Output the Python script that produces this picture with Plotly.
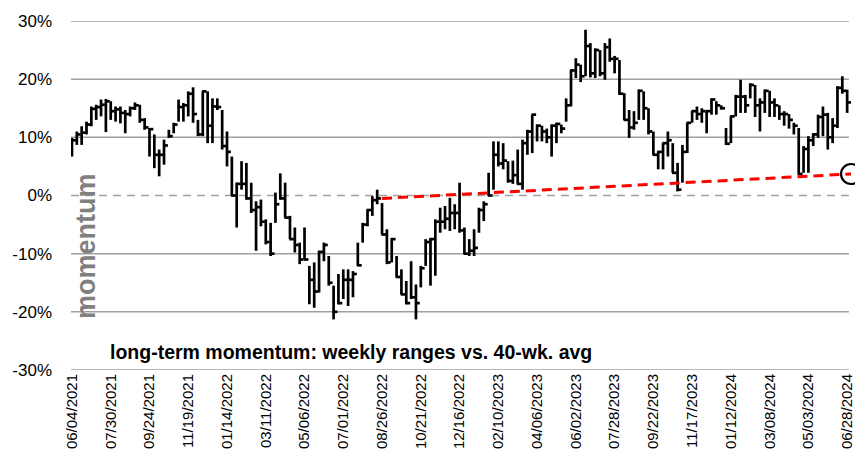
import plotly.graph_objects as go

# weekly momentum ranges (% vs. 40-wk avg), week 0 = 06/04/2021
highs = [9.9, 11.0, 11.9, 12.7, 15.3, 15.6, 16.5, 16.6, 16.2, 15.3,
         15.3, 14.7, 15.3, 16.0, 15.6, 13.3, 11.6, 10.5, 7.9, 9.6,
         11.3, 12.5, 16.5, 15.9, 17.9, 18.6, 13.0, 17.9, 17.9, 16.7,
         16.7, 14.7, 11.0, 6.7, 2.2, 5.9, 5.6, 2.2, -1.0, -0.7,
         -4.1, -4.7, 0.5, 3.8, 2.2, -3.5, -5.5, -8.1, -5.5, -12.1,
         -11.5, -9.5, -8.1, -10.4, -15.5, -13.5, -12.7, -12.7, -13.0, -8.1,
         -4.7, -2.4, -0.1, 1.0, -1.3, -5.8, -7.3, -10.4, -12.7, -14.7,
         -11.3, -15.3, -12.1, -7.5, -7.3, -4.1, -2.1, -1.8, -0.4, -1.5,
         2.2, -5.5, -7.5, -5.8, -2.1, -1.0, 3.9, 9.3, 9.3, 9.0,
         5.9, 6.0, 7.9, 9.6, 11.3, 13.9, 12.2, 12.0, 11.5, 12.2,
         12.5, 12.2, 16.7, 21.6, 23.6, 22.5, 28.5, 26.2, 25.3, 25.0,
         26.2, 27.0, 24.0, 23.3, 17.6, 14.7, 14.5, 18.2, 17.9, 15.0,
         11.0, 7.6, 9.0, 11.0, 9.0, 5.6, 8.7, 12.5, 14.5, 15.3,
         15.0, 14.5, 16.7, 16.2, 15.5, 11.6, 13.6, 17.3, 19.9, 17.3,
         19.3, 19.0, 16.7, 18.2, 18.0, 16.7, 15.5, 14.5, 14.0, 12.5,
         11.6, 8.5, 10.2, 10.7, 13.9, 15.3, 14.2, 13.3, 18.8, 20.5,
         18.2]
lows = [6.7, 8.7, 8.7, 10.5, 11.9, 13.0, 13.6, 10.9, 13.0, 12.7,
        12.4, 10.7, 13.6, 14.7, 12.5, 11.3, 6.7, 4.7, 3.3, 5.3,
        9.9, 10.7, 12.7, 12.7, 13.6, 12.5, 10.2, 10.2, 9.0, 9.0,
        14.7, 7.9, 5.0, -0.1, -5.5, 1.0, -0.7, -3.0, -9.5, -5.3,
        -8.4, -10.4, -4.7, -0.7, -3.8, -7.5, -9.8, -11.8, -11.0, -18.7,
        -19.3, -16.7, -11.3, -15.5, -21.3, -18.7, -17.8, -19.0, -17.5, -12.1,
        -8.1, -5.3, -3.5, -1.5, -6.7, -11.8, -11.5, -14.1, -17.0, -18.7,
        -17.8, -21.3, -15.8, -12.1, -15.5, -13.8, -6.4, -5.8, -6.1, -5.8,
        -6.4, -10.1, -10.4, -10.4, -6.4, -4.4, -0.1, 1.0, 5.0, 4.5,
        2.2, 2.0, 1.9, 1.0, 7.0, 7.3, 9.3, 9.3, 9.0, 6.7,
        9.0, 10.7, 12.7, 15.3, 20.2, 19.5, 20.5, 20.3, 20.2, 20.5,
        19.9, 23.0, 21.0, 17.3, 13.0, 9.9, 11.3, 13.0, 13.0, 10.5,
        7.0, 4.5, 4.5, 6.7, 3.9, 0.7, 2.2, 7.3, 12.5, 13.0,
        12.5, 10.7, 13.9, 13.9, 14.8, 8.7, 9.0, 13.6, 14.2, 14.2,
        16.7, 13.5, 11.0, 14.2, 13.5, 13.5, 13.0, 12.0, 11.5, 10.5,
        3.6, 3.9, 3.9, 8.5, 9.9, 10.2, 7.9, 9.0, 11.6, 17.5,
        14.2]
closes = [9.5, 10.5, 10.8, 12.2, 14.9, 15.2, 15.6, 16.2, 14.5, 14.8,
          14.2, 14.0, 15.0, 15.5, 13.0, 11.7, 11.4, 7.0, 7.0, 8.6,
          10.2, 12.2, 15.2, 15.5, 17.5, 14.0, 10.5, 17.9, 12.0, 15.3,
          15.2, 8.5, 7.5, 0.0, 2.0, 2.0, -0.5, -2.5, -2.0, -4.5,
          -8.0, -10.0, -1.5, -0.5, -3.8, -7.5, -8.5, -11.0, -11.0, -14.5,
          -16.5, -9.7, -8.5, -15.0, -20.0, -18.5, -14.5, -14.5, -13.5, -12.0,
          -5.0, -2.5, -0.8, -0.5, -6.7, -11.5, -7.5, -14.0, -17.0, -18.5,
          -17.5, -18.5, -12.5, -8.0, -7.5, -4.5, -4.5, -4.0, -3.0, -3.0,
          -6.0, -10.0, -9.5, -9.0, -2.5, -1.5, 0.0, 7.0, 5.5, 6.0,
          2.5, 3.5, 2.0, 9.0, 11.0, 13.9, 12.0, 11.0, 10.0, 12.0,
          12.3, 11.5, 15.5, 21.5, 22.5, 20.5, 25.7, 21.0, 25.0, 21.0,
          25.5, 23.5, 23.5, 17.5, 13.0, 11.7, 12.5, 18.0, 15.0, 11.0,
          7.0, 7.5, 9.0, 9.5, 3.9, 1.0, 7.5, 12.5, 14.5, 14.0,
          14.5, 14.5, 16.5, 15.5, 15.0, 8.9, 13.6, 17.0, 17.0, 15.5,
          19.0, 15.5, 16.0, 18.0, 16.0, 15.5, 14.0, 14.0, 13.0, 12.0,
          3.7, 8.0, 9.5, 10.5, 13.5, 13.9, 10.0, 12.0, 18.5, 18.0,
          16.0]

tick_weeks = list(range(0, 161, 8))
tick_labels = ["06/04/2021", "07/30/2021", "09/24/2021", "11/19/2021", "01/14/2022",
               "03/11/2022", "05/06/2022", "07/01/2022", "08/26/2022", "10/21/2022",
               "12/16/2022", "02/10/2023", "04/06/2023", "06/02/2023", "07/28/2023",
               "09/22/2023", "11/17/2023", "01/12/2024", "03/08/2024", "05/03/2024",
               "06/28/2024"]

trend_weeks = [64, 160.8]
trend_values = [-0.5, 3.7]

y_ticks = [-30, -20, -10, 0, 10, 20, 30]
grid_vals = [-30, -20, -10, 10, 20, 30]

FONT = "Liberation Sans, Arial, sans-serif"

# build high-low bars with close tick (right)
xs, ys = [], []
for i, (h, l, c) in enumerate(zip(highs, lows, closes)):
    xs += [i, i, None, i - 0.15, i + 0.8, None]
    ys += [l, h, None, c, c, None]

fig = go.Figure()
for g in grid_vals:
    fig.add_shape(type="line", xref="paper", yref="y", x0=0, x1=0.996, y0=g, y1=g,
                  line=dict(color="#a0a0a0", width=1.5), layer="below")
fig.add_shape(type="line", xref="paper", yref="y", x0=0, x1=0.996, y0=0, y1=0,
              line=dict(color="#a0a0a0", width=1.5, dash="8px,6px"), layer="below")

fig.add_trace(go.Scatter(x=xs, y=ys, mode="lines",
                         line=dict(color="black", width=2.7), hoverinfo="skip",
                         showlegend=False))
fig.add_trace(go.Scatter(x=trend_weeks, y=trend_values, mode="lines",
                         line=dict(color="#ff0000", width=3, dash="10px,6px"),
                         showlegend=False, cliponaxis=False))
fig.add_trace(go.Scatter(x=[trend_weeks[-1]], y=[trend_values[-1]], mode="markers",
                         marker=dict(size=20, color="rgba(0,0,0,0)",
                                     line=dict(color="black", width=2.2)),
                         showlegend=False, cliponaxis=False))

fig.update_layout(
    width=855, height=465,
    margin=dict(l=71, r=3, t=21, b=95),
    plot_bgcolor="white", paper_bgcolor="white",
    font=dict(family=FONT, color="black"),
    xaxis=dict(range=[-0.2, 161.0], tickvals=tick_weeks, ticktext=tick_labels,
               tickangle=-90, showgrid=False, zeroline=False, showline=False,
               ticks="", automargin=False, ticklabeloverflow="allow",
               tickfont=dict(size=15, family=FONT)),
    yaxis=dict(range=[-30, 30], tickvals=y_ticks,
               ticktext=[f"{v}%" for v in y_ticks], showgrid=False,
               zeroline=False, showline=False, ticks="", automargin=False,
               ticklabeloverflow="allow",
               tickfont=dict(size=17, family=FONT), ticklabelstandoff=18),
    annotations=[
        dict(text="<b>momentum</b>", textangle=-90, xref="paper", yref="paper",
             x=0.019, y=0.355, xanchor="center", yanchor="middle", showarrow=False,
             font=dict(size=27, color="#808080", family=FONT)),
        dict(text="<b>long-term momentum: weekly ranges vs. 40-wk. avg</b>",
             xref="paper", yref="paper", x=0.0476, y=0.0516, xanchor="left",
             yanchor="middle", showarrow=False,
             font=dict(size=19.5, color="black", family=FONT)),
    ],
)

fig.write_html(
    "out.html",
    config={"displayModeBar": False},
    post_script="document.body.style.margin='0';document.body.style.overflow='hidden';",
)
